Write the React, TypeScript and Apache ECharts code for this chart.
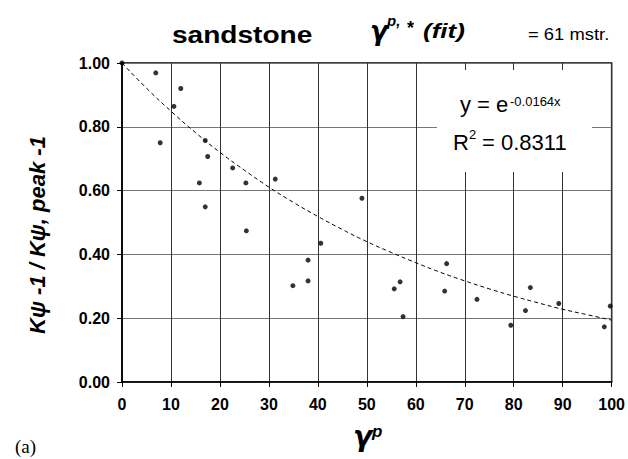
import React, { useEffect, useRef } from 'react';
import * as echarts from 'echarts';

// measured points (gamma^p, K ratio)
const gammaP = [0, 6.9, 12.0, 10.6, 7.8, 17.0, 17.5, 22.6, 15.8, 25.3, 31.3, 17.0, 49.0, 25.4, 40.6, 38.0, 38.0, 34.9, 56.8, 55.6, 57.4, 66.3, 65.9, 72.5, 79.4, 83.4, 82.4, 89.2, 98.5, 99.7];
const kRatio = [1.0, 0.969, 0.92, 0.864, 0.75, 0.757, 0.707, 0.671, 0.624, 0.624, 0.636, 0.549, 0.576, 0.474, 0.435, 0.382, 0.317, 0.302, 0.314, 0.292, 0.205, 0.371, 0.285, 0.259, 0.178, 0.296, 0.224, 0.246, 0.173, 0.238];

// fitted trend line y = e^(-0.0164x), read at every 5 units
const fitX = [0, 5, 10, 15, 20, 25, 30, 35, 40, 45, 50, 55, 60, 65, 70, 75, 80, 85, 90, 95, 100];
const fitY = [1.0, 0.921, 0.849, 0.782, 0.72, 0.664, 0.611, 0.563, 0.519, 0.478, 0.44, 0.406, 0.374, 0.344, 0.317, 0.292, 0.269, 0.248, 0.228, 0.211, 0.194];

const xTicks = [0, 10, 20, 30, 40, 50, 60, 70, 80, 90, 100];
const yTicks = ['0.00', '0.20', '0.40', '0.60', '0.80', '1.00'];

const SANS = '"Liberation Sans", Arial, sans-serif';
const GREEK = '"DejaVu Sans", "Liberation Sans", sans-serif';
const SERIF = '"Liberation Serif", "Times New Roman", serif';

function txt(x: number, y: number, text: string, font: string, extra: any = {}) {
  const { scaleX, rotation, align, z, ...rest } = extra;
  return {
    type: 'text',
    x,
    y,
    z: z ?? 5,
    scaleX: scaleX ?? 1,
    rotation: rotation ?? 0,
    style: {
      text,
      font,
      fill: '#000',
      textAlign: align ?? 'left',
      align: align ?? 'left',
      textVerticalAlign: 'middle',
      verticalAlign: 'middle',
      ...rest,
    },
  };
}

export default function App() {
  const ref = useRef<HTMLDivElement>(null);
  useEffect(() => {
    const chart = echarts.init(ref.current!, null, { renderer: 'svg' });
    chart.setOption({
      animation: false,
      backgroundColor: '#fff',
      grid: {
        left: 122,
        right: 15,
        top: 63,
        bottom: 77,
        show: true,
        borderColor: '#000',
        borderWidth: 1.5,
        backgroundColor: 'transparent',
      },
      xAxis: {
        type: 'value',
        min: xTicks[0],
        max: xTicks[xTicks.length - 1],
        interval: 10,
        axisLine: { show: true, lineStyle: { color: '#000', width: 1.5 } },
        axisTick: { show: true, length: 5, lineStyle: { color: '#000', width: 1 } },
        axisLabel: {
          color: '#000',
          fontFamily: SANS,
          fontWeight: 'bold',
          fontSize: 16,
          margin: 14,
          formatter: (v: number) => String(v),
        },
        splitLine: { show: true, lineStyle: { color: '#333', width: 1 } },
      },
      yAxis: {
        type: 'value',
        min: 0,
        max: 1,
        interval: 0.2,
        axisLine: { show: true, lineStyle: { color: '#000', width: 1.5 } },
        axisTick: { show: true, length: 5, lineStyle: { color: '#000', width: 1 } },
        axisLabel: {
          color: '#000',
          fontFamily: SANS,
          fontWeight: 'bold',
          fontSize: 16,
          margin: 12,
          formatter: (v: number) => yTicks[Math.round(v / 0.2)] ?? v.toFixed(2),
        },
        splitLine: { show: true, lineStyle: { color: '#777', width: 1 } },
      },
      series: [
        {
          type: 'line',
          data: fitX.map((x, i) => [x, fitY[i]]),
          smooth: true,
          showSymbol: false,
          symbol: 'none',
          lineStyle: { color: '#000', width: 1, type: [4, 3] },
          z: 2,
        },
        {
          type: 'scatter',
          data: gammaP.map((x, i) => [x, kRatio[i]]),
          symbol: 'circle',
          symbolSize: 5,
          itemStyle: { color: '#000' },
          z: 3,
        },
      ],
      graphic: [
        { type: 'rect', z: 1, shape: { x: 437, y: 70, width: 155, height: 102 }, style: { fill: '#fff' } },
        // title
        txt(172, 34.5, 'sandstone', `bold 24px ${SANS}`, { scaleX: 1.17 }),
        txt(370, 31, 'γ', `italic bold 26px ${GREEK}`),
        txt(387, 20, 'p,', `italic bold 15px ${SANS}`),
        txt(407, 28, '*', `bold 18px ${SANS}`),
        txt(423, 31, '(fit)', `italic bold 20px ${SANS}`, { scaleX: 1.3 }),
        txt(528, 34.4, '= 61 mstr.', `16px ${SANS}`, { scaleX: 1.15 }),
        // equation
        txt(460, 104.5, 'y = e', `22px ${SANS}`),
        txt(510, 101, '-0.0164x', `13px ${SANS}`),
        txt(453, 142.5, 'R', `22px ${SANS}`),
        txt(469, 134, '2', `13px ${SANS}`),
        txt(482, 142.5, '= 0.8311', `22px ${SANS}`),
        // axis names
        txt(353, 436, 'γ', `italic bold 28px ${GREEK}`),
        txt(372, 431, 'p', `italic bold 17px ${SANS}`),
        txt(37, 235, 'Kψ -1 / Kψ, peak -1', `italic bold 22px ${SANS}`, { rotation: Math.PI / 2, align: 'center' }),
        // panel label
        txt(15, 446, '(a)', `19px ${SERIF}`),
      ],
    });
    return () => chart.dispose();
  }, []);
  return (
    <div
      ref={ref}
      style={{ position: 'absolute', left: 0, top: 0, width: 628, height: 459, background: '#fff' }}
    />
  );
}
